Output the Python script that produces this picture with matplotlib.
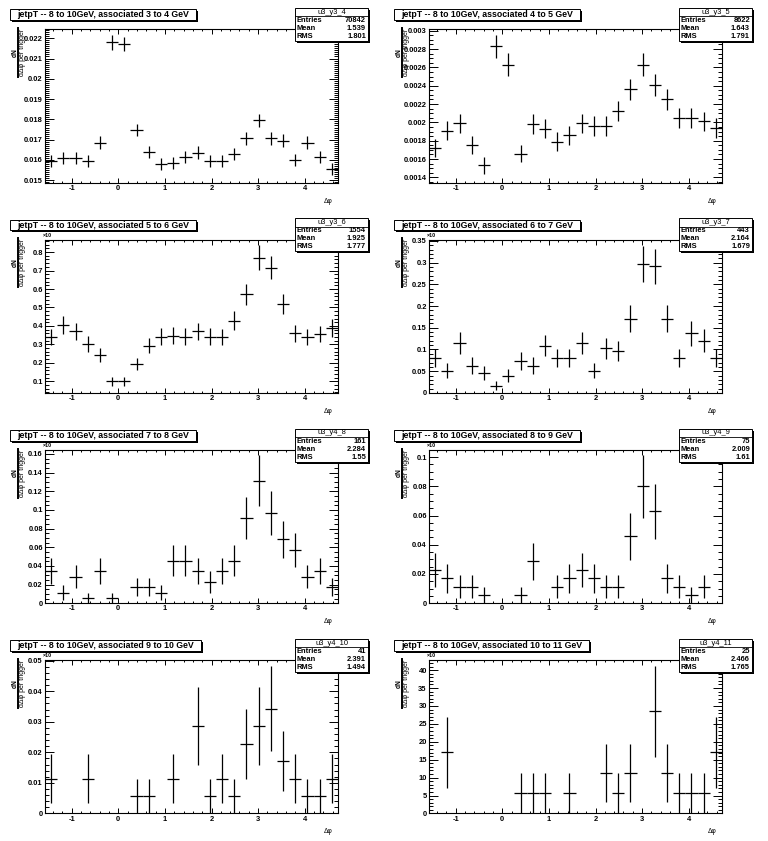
import numpy as np
import matplotlib
matplotlib.use("Agg")
import matplotlib.pyplot as plt
from matplotlib.patches import Rectangle
from matplotlib.lines import Line2D
from matplotlib.ticker import MultipleLocator, AutoMinorLocator, FormatStrFormatter

plt.rcParams['font.family'] = ['Liberation Sans', 'DejaVu Sans']
plt.rcParams['font.weight'] = 'bold'

W, H, DPI = 768, 841, 100

# 24 bins of pi/12 from -pi/2 to 3pi/2
bin_width = np.pi / 12
bin_centers = -np.pi / 2 + bin_width * (np.arange(24) + 0.5)
per_count = 5.71e-6  # value of one entry (1 / (Ntrig * bin width))

titles = [
    "jetpT -- 8 to 10GeV, associated 3 to 4 GeV",
    "jetpT -- 8 to 10GeV, associated 4 to 5 GeV",
    "jetpT -- 8 to 10GeV, associated 5 to 6 GeV",
    "jetpT -- 8 to 10GeV, associated 6 to 7 GeV",
    "jetpT -- 8 to 10GeV, associated 7 to 8 GeV",
    "jetpT -- 8 to 10GeV, associated 8 to 9 GeV",
    "jetpT -- 8 to 10GeV, associated 9 to 10 GeV",
    "jetpT -- 8 to 10GeV, associated 10 to 11 GeV",
]
hist_names = ["u3_y3_4", "u3_y3_5", "u3_y3_6", "u3_y3_7",
              "u3_y4_8", "u3_y4_9", "u3_y4_10", "u3_y4_11"]
entries = ["70842", "8622", "1554", "443", "161", "75", "41", "25"]
means = ["1.539", "1.643", "1.925", "2.164", "2.284", "2.009", "2.391", "2.466"]
rms = ["1.801", "1.791", "1.777", "1.679", "1.55", "1.61", "1.494", "1.765"]

# values in axis units (multiplied by y_scale to get per-trigger yield)
y_scale = [1, 1, 1e-3, 1e-3, 1e-3, 1e-3, 1e-3, 1e-6]

vals_3_4 = [0.01595, 0.01608, 0.01608, 0.01595, 0.01686, 0.02179, 0.02171, 0.01748,
            0.01638, 0.01580, 0.01584, 0.01616, 0.01636, 0.01595, 0.01595, 0.01628,
            0.01707, 0.01797, 0.01707, 0.01695, 0.01600, 0.01686, 0.01613, 0.01556]
vals_4_5 = [0.00172, 0.00191, 0.00199, 0.00175, 0.00153, 0.00283, 0.00263, 0.00166,
            0.00198, 0.00193, 0.00179, 0.00186, 0.00199, 0.00196, 0.00196, 0.00212,
            0.00236, 0.00263, 0.00241, 0.00225, 0.00205, 0.00205, 0.00201, 0.00194]
vals_5_6 = [0.339, 0.407, 0.371, 0.303, 0.244, 0.100, 0.100, 0.195,
            0.294, 0.342, 0.348, 0.342, 0.371, 0.342, 0.339, 0.429,
            0.572, 0.770, 0.716, 0.518, 0.360, 0.339, 0.357, 0.389]
vals_6_7 = [0.080, 0.051, 0.114, 0.063, 0.046, 0.017, 0.040, 0.074,
            0.063, 0.109, 0.080, 0.080, 0.114, 0.051, 0.103, 0.097,
            0.171, 0.297, 0.291, 0.171, 0.080, 0.137, 0.120, 0.080]
vals_7_8 = [0.0343, 0.0114, 0.0286, 0.0057, 0.0343, 0.0057, 0.0, 0.0171,
            0.0171, 0.0114, 0.0457, 0.0457, 0.0343, 0.0228, 0.0343, 0.0457,
            0.0914, 0.1313, 0.0971, 0.0685, 0.0571, 0.0286, 0.0343, 0.0171]
vals_8_9 = [0.0228, 0.0171, 0.0114, 0.0114, 0.0057, 0.0, 0.0, 0.0057,
            0.0286, 0.0, 0.0114, 0.0171, 0.0228, 0.0171, 0.0114, 0.0114,
            0.0457, 0.0800, 0.0628, 0.0171, 0.0114, 0.0057, 0.0114, 0.0]
vals_9_10 = [0.0114, 0.0, 0.0, 0.0114, 0.0, 0.0, 0.0, 0.0057,
             0.0057, 0.0, 0.0114, 0.0, 0.0286, 0.0057, 0.0114, 0.0057,
             0.0228, 0.0286, 0.0343, 0.0171, 0.0114, 0.0057, 0.0057, 0.0114]
vals_10_11 = [0.0, 17.1, 0.0, 0.0, 0.0, 0.0, 0.0, 5.7,
              5.7, 5.7, 0.0, 5.7, 0.0, 0.0, 11.4, 5.7,
              11.4, 0.0, 28.5, 11.4, 5.7, 5.7, 5.7, 17.1]
all_vals = [vals_3_4, vals_4_5, vals_5_6, vals_6_7, vals_7_8, vals_8_9, vals_9_10, vals_10_11]

y_limits = [(0.01488, 0.02244), (0.001342, 0.003015), (0.037, 0.868), (0, 0.353),
            (0, 0.1644), (0, 0.105), (0, 0.0502), (0, 42.8)]
y_major = [0.001, 0.0002, 0.1, 0.05, 0.02, 0.02, 0.01, 5]
y_minor = [10, 4, 5, 5, 4, 4, 5, 5]

fig = plt.figure(figsize=(W / DPI, H / DPI), dpi=DPI)
fig.patch.set_facecolor("white")

# overlay in pixel coordinates for boxes and labels
ov = fig.add_axes([0, 0, 1, 1], zorder=10)
ov.set_xlim(0, W)
ov.set_ylim(H, 0)
ov.axis("off")
ov.patch.set_alpha(0)


def px_rect(x0, y0, x1, y1):
    return [x0 / W, 1 - y1 / H, (x1 - x0) / W, (y1 - y0) / H]


pad_h = H / 4
title_texts = []
for i in range(8):
    ox = (i % 2) * 384
    oy = (i // 2) * pad_h
    ax = fig.add_axes(px_rect(ox + 45, oy + 29.3, ox + 338, oy + 182.7))

    v = np.array(all_vals[i], dtype=float)
    keep = v > 0
    err = np.sqrt(v * y_scale[i] * per_count) / y_scale[i]
    ax.errorbar(bin_centers[keep], v[keep], xerr=bin_width / 2, yerr=err[keep],
                fmt="none", ecolor="black", elinewidth=0.9, capsize=0)

    ax.set_xlim(-np.pi / 2, 3 * np.pi / 2)
    ax.set_ylim(*y_limits[i])
    ax.xaxis.set_major_locator(MultipleLocator(1))
    ax.xaxis.set_minor_locator(AutoMinorLocator(5))
    ax.yaxis.set_major_locator(MultipleLocator(y_major[i]))
    ax.yaxis.set_minor_locator(AutoMinorLocator(y_minor[i]))
    ax.xaxis.set_major_formatter(FormatStrFormatter("%g"))
    ax.yaxis.set_major_formatter(FormatStrFormatter("%g"))
    ax.tick_params(axis="both", which="both", direction="in", top=True, right=True,
                   width=0.7, labelsize=5.4, pad=1.6)
    ax.tick_params(axis="x", which="major", length=3.3)
    ax.tick_params(axis="x", which="minor", length=1.7)
    ax.tick_params(axis="y", which="major", length=6.3)
    ax.tick_params(axis="y", which="minor", length=3.2)
    for s in ax.spines.values():
        s.set_linewidth(0.8)

    # exponent marker
    if y_scale[i] != 1:
        ov.text(ox + 43, oy + 25, "×10", fontsize=3.8, ha="left", va="center")

    # x axis title
    ov.text(ox + 333, oy + 201, "Δφ", fontsize=4.8, ha="right", va="center",
            fontweight="normal")

    # y axis title as fraction
    ov.text(ox + 15, oy + 52.5, "dN", fontsize=4.8, rotation=90, ha="center", va="center")
    ov.add_line(Line2D([ox + 18.2, ox + 18.2], [oy + 28, oy + 77], color="black", lw=1.4))
    ov.text(ox + 22.5, oy + 52.5, "dΔφ per trigger", fontsize=5.0, rotation=90,
            ha="center", va="center", fontweight="normal")

    # title box
    t = ov.text(ox + 13, oy + 14.8, titles[i], fontsize=6.3, ha="left", va="center")
    title_texts.append((t, ox, oy))

    # stats box with shadow
    sx0, sy0, sx1, sy1 = ox + 295, oy + 8, ox + 368, oy + 41
    ov.add_patch(Rectangle((sx0 + 2, sy0 + 2), sx1 - sx0, sy1 - sy0, facecolor="black",
                           edgecolor="black", lw=0))
    ov.add_patch(Rectangle((sx0, sy0), sx1 - sx0, sy1 - sy0, facecolor="white",
                           edgecolor="black", lw=0.7))
    ov.add_line(Line2D([sx0, sx1], [sy0 + 8.3, sy0 + 8.3], color="black", lw=0.6))
    ov.text((sx0 + sx1) / 2, sy0 + 4.3, hist_names[i], fontsize=5.4, ha="center", va="center",
            fontweight="normal")
    for k, (lab, val) in enumerate(zip(["Entries", "Mean", "RMS"], [entries[i], means[i], rms[i]])):
        yy = sy0 + 12.6 + k * 8.0
        ov.text(sx0 + 1.5, yy, lab, fontsize=5.4, ha="left", va="center")
        ov.text(sx1 - 2, yy, val, fontsize=5.4, ha="right", va="center")

# size title boxes to their text
fig.canvas.draw()
renderer = fig.canvas.get_renderer()
inv = ov.transData.inverted()
for t, ox, oy in title_texts:
    bb = t.get_window_extent(renderer)
    (x0, _), (x1, _) = inv.transform([[bb.x0, bb.y0], [bb.x1, bb.y1]])
    bx0, by0 = ox + 10, oy + 9.3
    bw, bh = (x1 - x0) + 14, 10.7
    ov.add_patch(Rectangle((bx0 + 2, by0 + 2), bw, bh, facecolor="black", lw=0, zorder=0.5))
    ov.add_patch(Rectangle((bx0, by0), bw, bh, facecolor="white", edgecolor="black",
                           lw=0.7, zorder=0.6))
    t.set_x(bx0 + bw / 2)
    t.set_ha("center")

fig.savefig("out.png", dpi=DPI)
